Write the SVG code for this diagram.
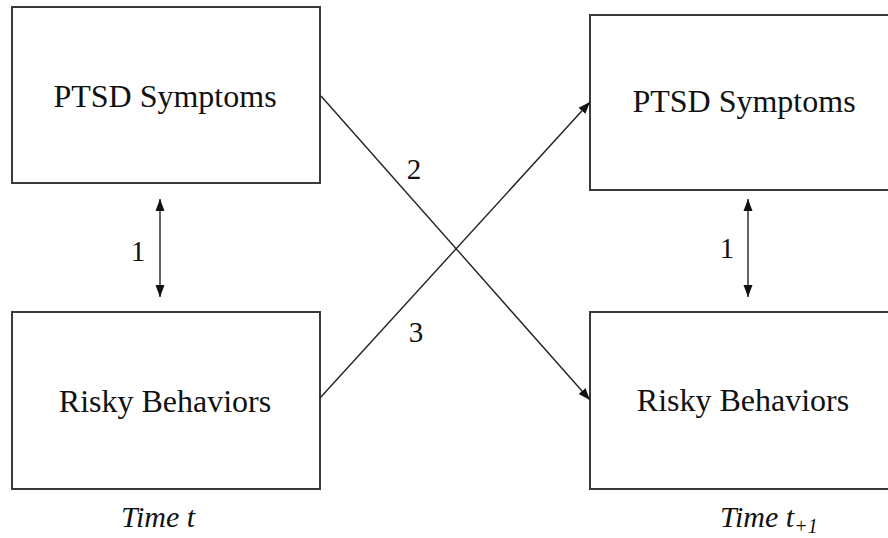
<svg xmlns="http://www.w3.org/2000/svg" width="888" height="538" viewBox="0 0 888 538">
<style>
.box{fill:#fff;stroke:#3a3a3a;stroke-width:2}
.lbl{font-family:"Liberation Serif","Times New Roman",serif;font-size:32px;fill:#111;text-anchor:middle}
.num{font-family:"Liberation Serif","Times New Roman",serif;font-size:29px;fill:#111;text-anchor:middle}
.time{font-family:"Liberation Serif","Times New Roman",serif;font-size:30px;font-style:italic;fill:#111}
.edge{stroke:#222;stroke-width:1.4;fill:none}
</style>
<defs>
<marker id="ah" viewBox="0 0 12 10" refX="12" refY="5" markerWidth="12" markerHeight="10" markerUnits="userSpaceOnUse" orient="auto-start-reverse">
<path d="M0,0.5 L12,5 L0,9.5 Z" fill="#111"/>
</marker>
</defs>
<rect width="888" height="538" fill="#fff"/>
<g id="ptsd_t">
<rect class="box" x="12" y="7" width="308" height="176"/>
<text class="lbl" x="165" y="107">PTSD Symptoms</text>
</g>
<g id="risky_t">
<rect class="box" x="12" y="312" width="308" height="177"/>
<text class="lbl" x="165" y="412">Risky Behaviors</text>
</g>
<g id="ptsd_t1">
<rect class="box" x="590" y="15" width="310" height="175"/>
<text class="lbl" x="744" y="112">PTSD Symptoms</text>
</g>
<g id="risky_t1">
<rect class="box" x="590" y="312" width="310" height="177"/>
<text class="lbl" x="743" y="411">Risky Behaviors</text>
</g>
<g id="connectors">
<line class="edge" x1="160" y1="199" x2="160" y2="297" marker-start="url(#ah)" marker-end="url(#ah)"/>
<line class="edge" x1="748" y1="199" x2="748" y2="297" marker-start="url(#ah)" marker-end="url(#ah)"/>
<line class="edge" x1="321" y1="96" x2="590" y2="400" marker-end="url(#ah)"/>
<line class="edge" x1="320" y1="398" x2="590" y2="102" marker-end="url(#ah)"/>
<text class="num" x="138" y="261">1</text>
<text class="num" x="727" y="258">1</text>
<text class="num" x="414" y="179">2</text>
<text class="num" x="416" y="342">3</text>
</g>
<g id="labels">
<text class="time" x="121" y="527">Time t</text>
<text class="time" x="720" y="527">Time t<tspan font-size="20" dy="6">+1</tspan></text>
</g>
</svg>
